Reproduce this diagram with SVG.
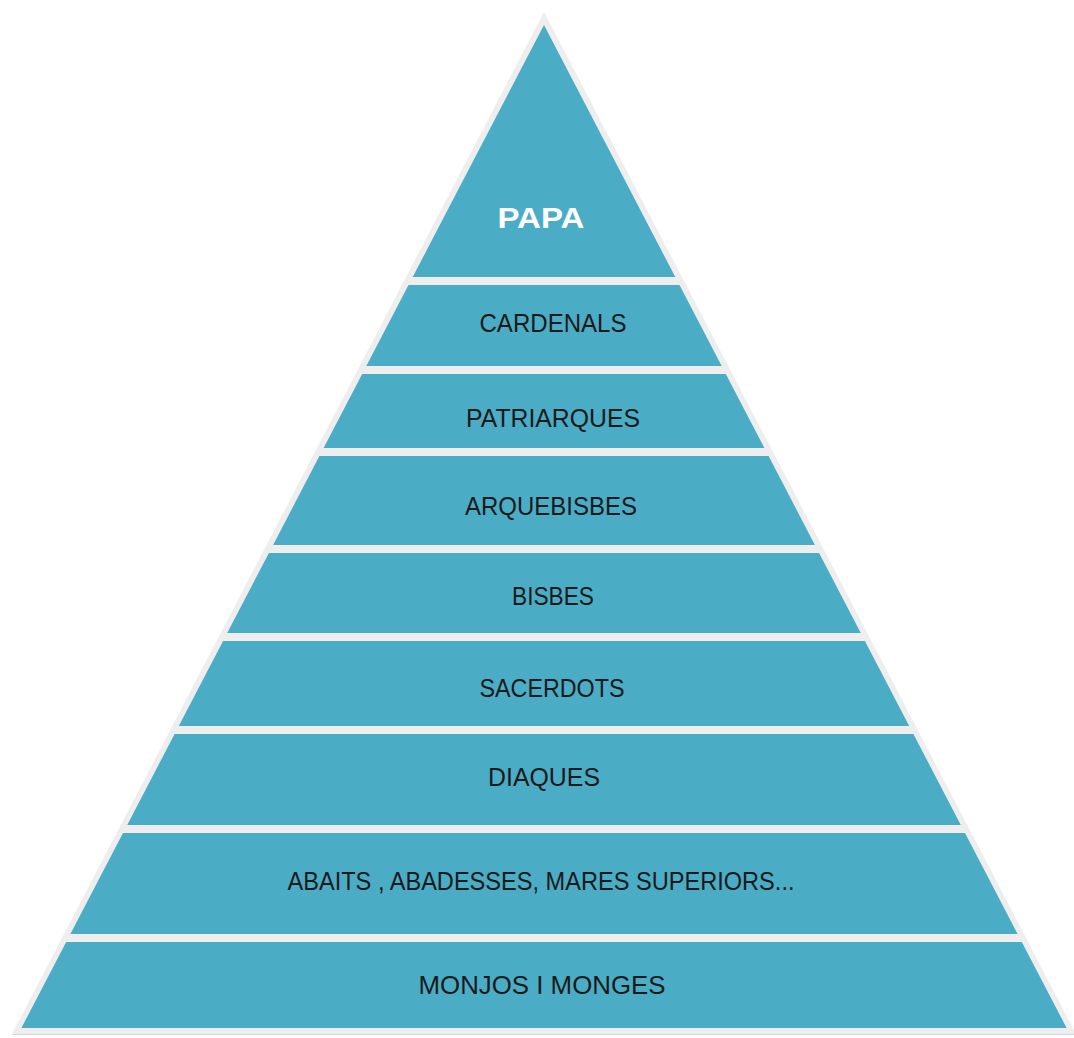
<svg xmlns="http://www.w3.org/2000/svg" width="1074" height="1038" viewBox="0 0 1074 1038">
  <style>
    .layer { fill: #4bacc6; }
    .lbl { font-family: "Liberation Sans", Arial, sans-serif; font-size: 25.5px; fill: #1a1a1a; text-anchor: middle; }
    .top { font-family: "Liberation Sans", Arial, sans-serif; font-size: 30px; font-weight: bold; fill: #ffffff; text-anchor: middle; }
  </style>
  <rect width="1074" height="1038" fill="#ffffff"/>
  <g id="outline">
    <polygon points="544,12 12,1034 1076,1034" fill="#eeeeee"/>
    <line x1="12" y1="1034.5" x2="1074" y2="1034.5" stroke="#d6d6d6" stroke-width="1"/>
  </g>
  <g id="papa">
    <polygon class="layer" points="544,25 675.3,277 412.7,277"/>
    <text class="top" x="541" y="228" textLength="87" lengthAdjust="spacingAndGlyphs">PAPA</text>
  </g>
  <g id="cardenals">
    <polygon class="layer" points="408.5,285 679.5,285 721.7,366 366.3,366"/>
    <text class="lbl" x="553" y="332" textLength="147" lengthAdjust="spacingAndGlyphs">CARDENALS</text>
  </g>
  <g id="patriarques">
    <polygon class="layer" points="362.2,374 725.8,374 764.4,448 323.6,448"/>
    <text class="lbl" x="553" y="427" textLength="174" lengthAdjust="spacingAndGlyphs">PATRIARQUES</text>
  </g>
  <g id="arquebisbes">
    <polygon class="layer" points="319.4,456 768.6,456 814.9,545 273.1,545"/>
    <text class="lbl" x="551" y="515" textLength="172" lengthAdjust="spacingAndGlyphs">ARQUEBISBES</text>
  </g>
  <g id="bisbes">
    <polygon class="layer" points="268.9,553 819.1,553 860.8,633 227.2,633"/>
    <text class="lbl" x="553" y="605" textLength="82" lengthAdjust="spacingAndGlyphs">BISBES</text>
  </g>
  <g id="sacerdots">
    <polygon class="layer" points="223.1,641 864.9,641 909.2,726 178.8,726"/>
    <text class="lbl" x="552" y="697" textLength="145" lengthAdjust="spacingAndGlyphs">SACERDOTS</text>
  </g>
  <g id="diaques">
    <polygon class="layer" points="174.6,734 913.4,734 960.8,825 127.2,825"/>
    <text class="lbl" x="544" y="786" textLength="112" lengthAdjust="spacingAndGlyphs">DIAQUES</text>
  </g>
  <g id="abats">
    <polygon class="layer" points="123,833 965,833 1017.6,934 70.4,934"/>
    <text class="lbl" x="541" y="890" textLength="507" lengthAdjust="spacingAndGlyphs">ABAITS , ABADESSES, MARES SUPERIORS...</text>
  </g>
  <g id="monjos">
    <polygon class="layer" points="66.2,942 1021.8,942 1066.6,1028 21.4,1028"/>
    <text class="lbl" x="542" y="994" textLength="247" lengthAdjust="spacingAndGlyphs">MONJOS I MONGES</text>
  </g>
  <g id="connectors"></g>
</svg>
